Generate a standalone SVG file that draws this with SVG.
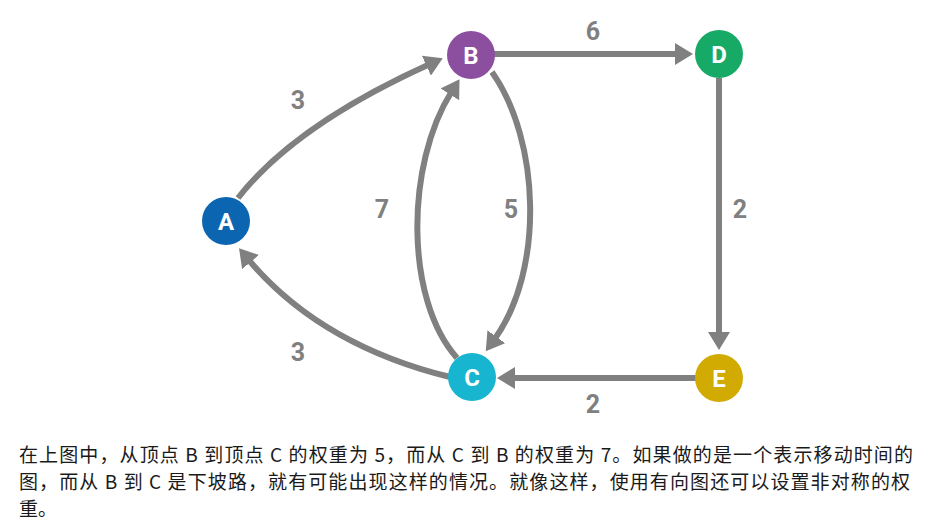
<svg xmlns="http://www.w3.org/2000/svg" width="928" height="530" viewBox="0 0 928 530">
<style>
.edge{fill:none;stroke:#808080;stroke-width:6}
.wl{font-family:Roboto,"Liberation Sans",sans-serif;font-weight:700;font-size:25px;fill:#808080;text-anchor:middle}
.nl{font-family:Roboto,"Liberation Sans",sans-serif;font-weight:700;font-size:24px;fill:#ffffff;text-anchor:middle}
.para{font-family:"Noto Sans CJK SC","Noto Sans",sans-serif;font-size:19px;fill:#1a1a1a}
</style>
<defs>
<marker id="ah" markerUnits="userSpaceOnUse" markerWidth="20" markerHeight="22" refX="4" refY="11" orient="auto">
<path d="M0,0 L18,11 L0,22 z" fill="#808080"/>
</marker>
</defs>
<rect width="928" height="530" fill="#ffffff"/>
<g id="edges">
<path class="edge" marker-end="url(#ah)" d="M238,198 Q295,125 430,64"/>
<path class="edge" marker-end="url(#ah)" d="M457,358 C405,300 405,165 452,91"/>
<path class="edge" marker-end="url(#ah)" d="M492,72 C540,140 545,270 494,340"/>
<path class="edge" marker-end="url(#ah)" d="M450,377 Q320,345 248,259"/>
<path class="edge" marker-end="url(#ah)" d="M494,54 L679,54"/>
<path class="edge" marker-end="url(#ah)" d="M719,78 L719,336"/>
<path class="edge" marker-end="url(#ah)" d="M696,378 L511,378"/>
<text class="wl" x="298" y="109">3</text>
<text class="wl" x="382" y="218">7</text>
<text class="wl" x="511" y="218">5</text>
<text class="wl" x="593" y="40">6</text>
<text class="wl" x="740" y="218">2</text>
<text class="wl" x="298" y="361">3</text>
<text class="wl" x="593" y="413">2</text>
</g>
<g id="node-A"><circle cx="226" cy="221" r="24" fill="#0b65b1"/><text class="nl" x="226" y="229.5">A</text></g>
<g id="node-B"><circle cx="471" cy="55" r="24" fill="#8c4f9f"/><text class="nl" x="471" y="63.5">B</text></g>
<g id="node-D"><circle cx="719" cy="54" r="24" fill="#17aa67"/><text class="nl" x="719" y="62.5">D</text></g>
<g id="node-C"><circle cx="472" cy="377" r="24" fill="#17b5cf"/><text class="nl" x="472" y="385.5">C</text></g>
<g id="node-E"><circle cx="719" cy="378" r="24" fill="#d1aa02"/><text class="nl" x="719" y="386.5">E</text></g>
<g id="caption">
<text class="para" x="19" y="462" textLength="894" lengthAdjust="spacing">在上图中，从顶点 B 到顶点 C 的权重为 5，而从 C 到 B 的权重为 7。如果做的是一个表示移动时间的</text>
<text class="para" x="19" y="489" textLength="891" lengthAdjust="spacing">图，而从 B 到 C 是下坡路，就有可能出现这样的情况。就像这样，使用有向图还可以设置非对称的权</text>
<text class="para" x="19" y="516">重。</text>
</g>
</svg>
